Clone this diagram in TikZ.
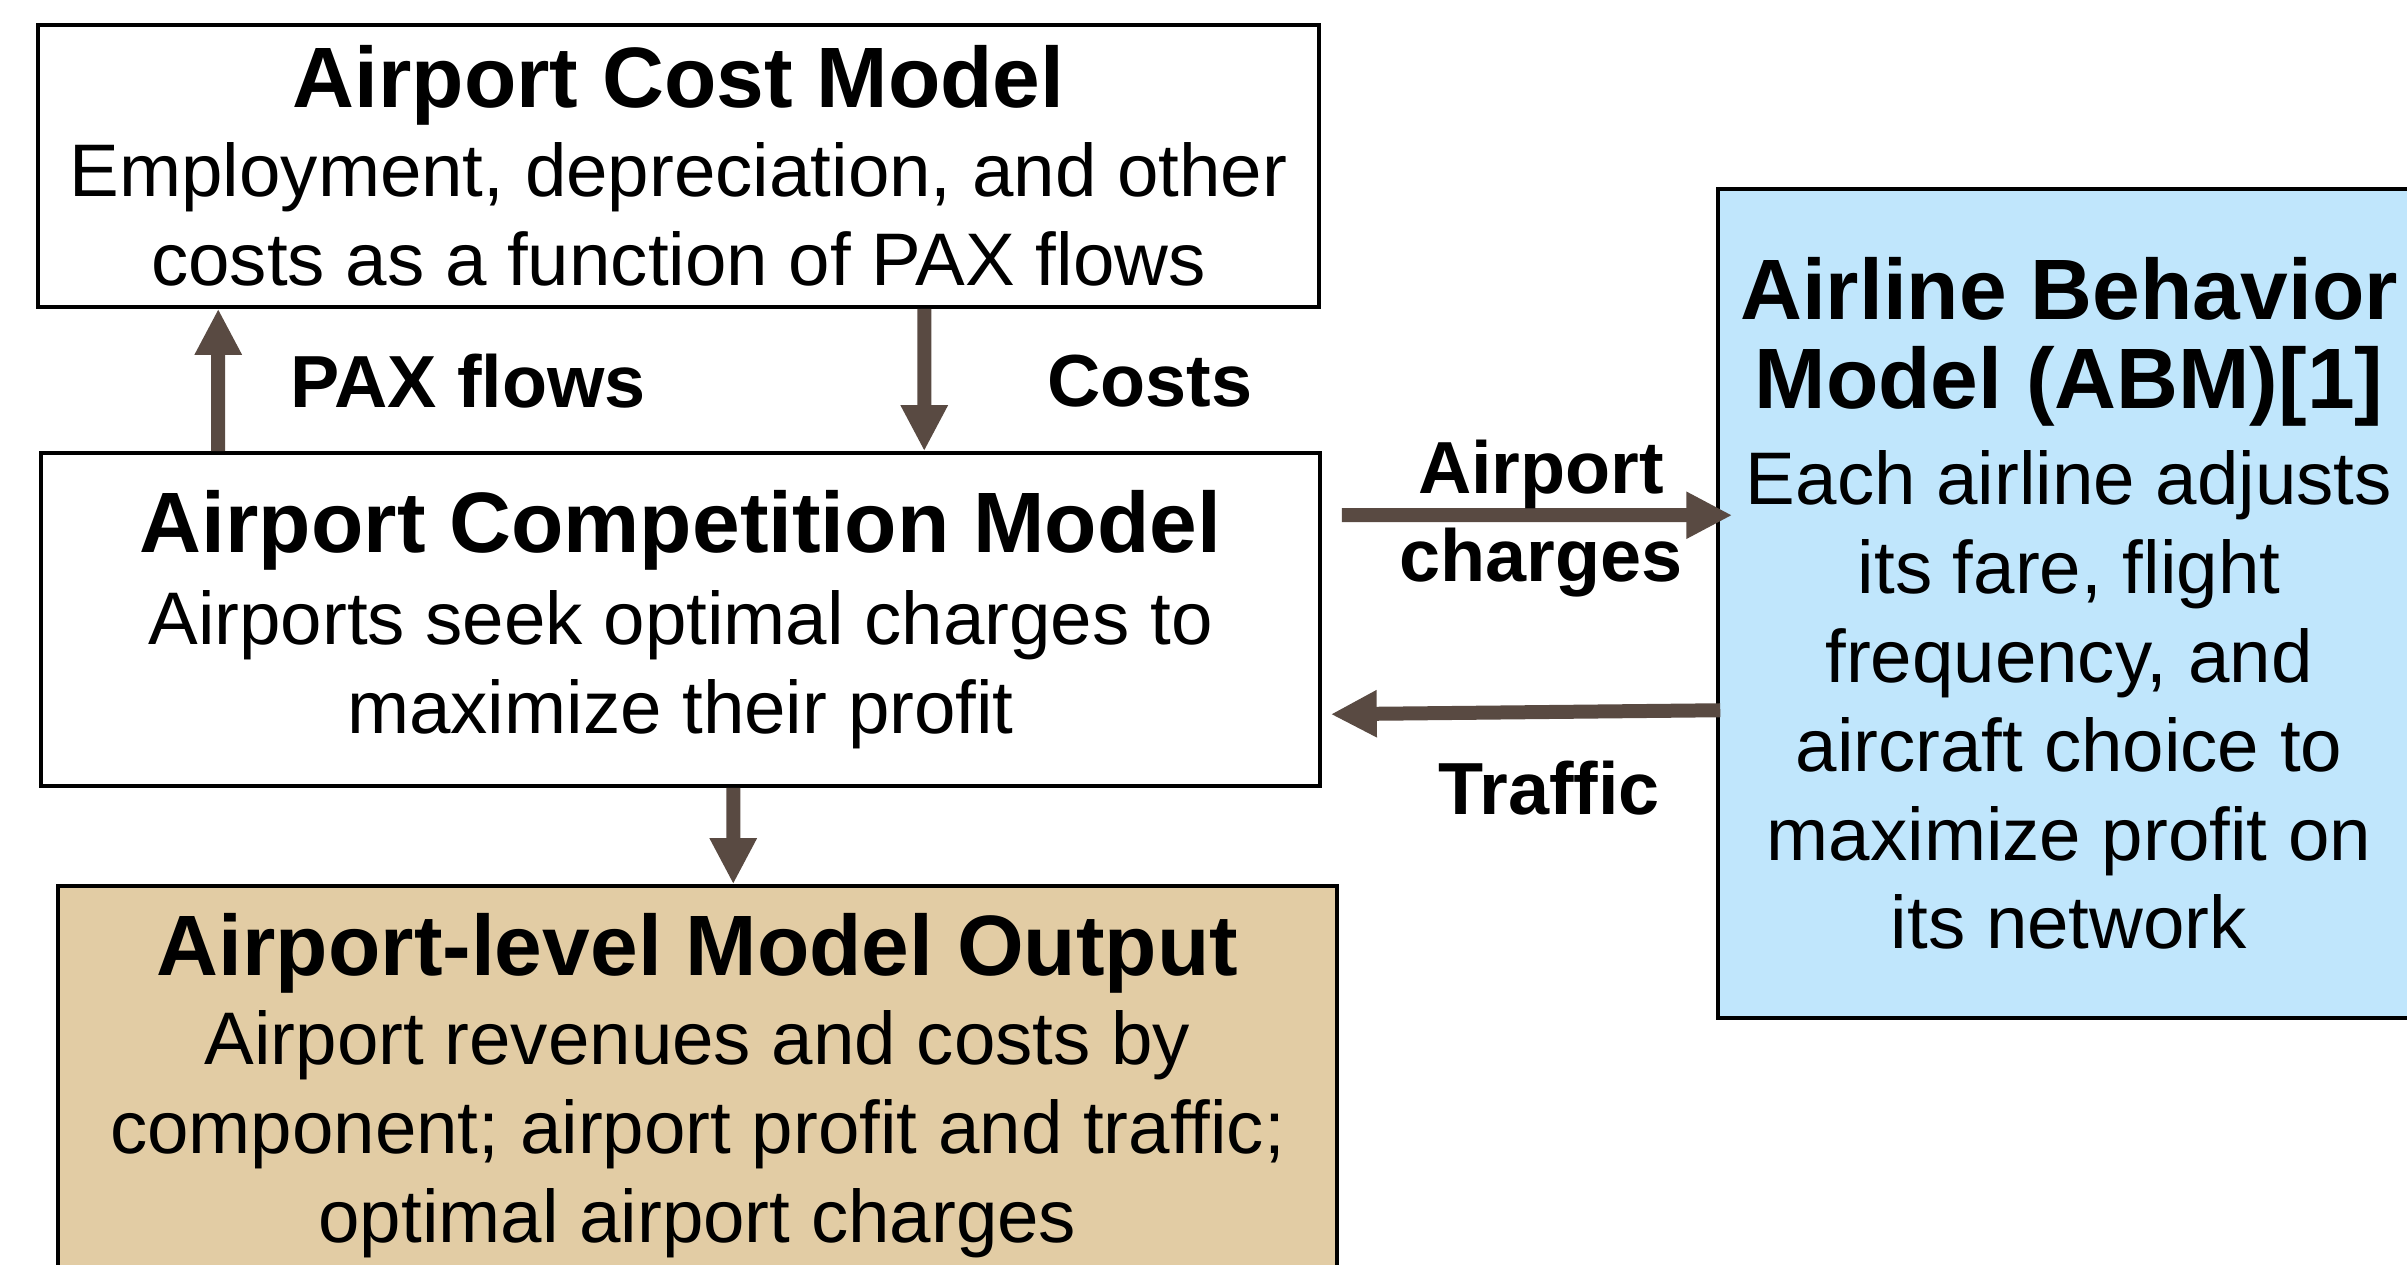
\documentclass[tikz,border=0pt]{standalone}
\usepackage{fontspec}
\setmainfont{Liberation Sans}
\usetikzlibrary{arrows.meta}
\definecolor{flowbrown}{RGB}{89,74,66}
\definecolor{abmblue}{RGB}{192,230,252}
\definecolor{outputtan}{RGB}{226,204,164}
\newcommand{\boxtitle}[1]{{\fontsize{24.4}{25.3}\selectfont\bfseries #1}}
\begin{document}
\begin{tikzpicture}[
  modelbox/.style={draw=black,line width=1pt,align=center,inner sep=0pt,font=\fontsize{21.2}{25.3}\selectfont},
  flow/.style={draw=flowbrown,line width=0.14cm,-{Triangle[width=0.44cm,length=0.46cm]}},
  flowlabel/.style={align=center,font=\fontsize{21}{25}\selectfont\bfseries}]
\useasboundingbox (0,0) rectangle (24.07,-12.65);
\clip (0,0) rectangle (24.07,-12.65);
% Model blocks
\node[modelbox,minimum width=12.81cm,minimum height=2.82cm] (cost) at (6.785,-1.66) {\boxtitle{Airport Cost Model}\\Employment, depreciation, and other\\costs as a function of PAX flows};
\node[modelbox,minimum width=12.79cm,minimum height=3.33cm] (comp) at (6.805,-6.195) {\boxtitle{Airport Competition Model}\\[1pt]Airports seek optimal charges to\\maximize their profit};
\node[modelbox,fill=outputtan,minimum width=12.79cm,minimum height=4.0cm] (output) at (6.975,-10.86) {\boxtitle{Airport-level Model Output}\\Airport revenues and costs by\\component; airport profit and traffic;\\optimal airport charges};
\node[modelbox,fill=abmblue,minimum width=7.02cm,minimum height=8.29cm] (abm) at (20.69,-6.035) {\boxtitle{Airline Behavior}\\\boxtitle{Model (ABM)[1]}\\[2pt]Each airline adjusts\\its fare, flight\\frequency, and\\aircraft choice to\\maximize profit on\\its network};
% Flows between the models
\draw[flow] ([xshift=1.79cm]comp.north west) -- ([xshift=1.82cm]cost.south west);
\draw[flow] ([xshift=8.88cm]cost.south west) -- ([xshift=8.85cm]comp.north west);
\draw[flow] ([xshift=6.94cm]comp.south west) -- ([xshift=6.77cm]output.north west);
\draw[flow] ([shift={(0.2,-0.64)}]comp.north east) -- ([shift={(0.16,-3.28)}]abm.north west);
\draw[flow] ([shift={(0.04,-5.23)}]abm.north west) -- ([shift={(0.09,-2.63)}]comp.north east);
\node[flowlabel] (paxlabel) at (4.68,-3.81) {PAX flows};
\node[flowlabel] (costlabel) at (11.50,-3.81) {Costs};
\node[flowlabel] (chargelabel) at (15.41,-5.19) {Airport\\charges};
\node[flowlabel] (trafficlabel) at (15.49,-7.88) {Traffic};
\end{tikzpicture}
\end{document}
